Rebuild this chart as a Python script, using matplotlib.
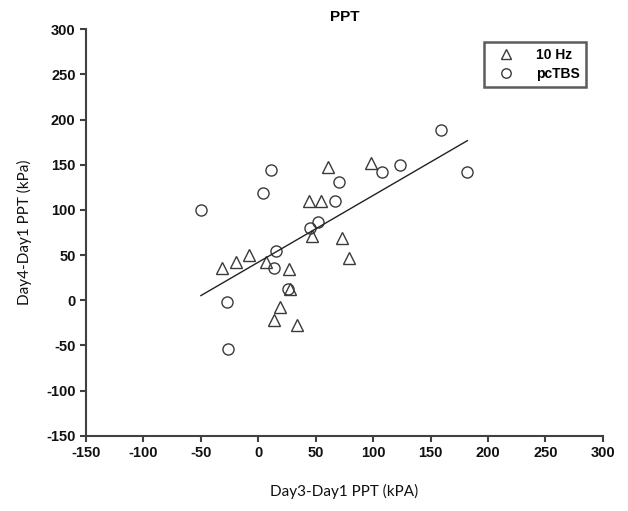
import numpy as np
import matplotlib
matplotlib.use("Agg")
import matplotlib.pyplot as plt

plt.rcParams['axes.unicode_minus'] = False

# 10 Hz (triangles)
hz_x = [-32, -19, -8, 7, 27, 28, 19, 14, 34, 61, 98, 44, 55, 47, 73, 79]
hz_y = [36, 42, 50, 42, 35, 13, -7, -22, -27, 148, 152, 110, 110, 71, 69, 47]
# pcTBS (circles)
pc_x = [-50, 11, 4, 15, 14, 26, -27, -26, 45, 52, 67, 70, 108, 123, 159, 182]
pc_y = [100, 144, 119, 55, 36, 12, -2, -54, 80, 87, 110, 131, 142, 150, 188, 142]

xticks = [-150, -100, -50, 0, 50, 100, 150, 200, 250, 300]
yticks = [-150, -100, -50, 0, 50, 100, 150, 200, 250, 300]

fig = plt.figure(figsize=(6.28, 5.11), dpi=100)
ax = fig.add_axes([0.137, 0.147, 0.823, 0.796])

edge = '#3a3a3a'
ax.plot(hz_x, hz_y, linestyle='none', marker='^', markersize=8.5, markerfacecolor='none',
        markeredgecolor=edge, markeredgewidth=1.0, label='10 Hz')
ax.plot(pc_x, pc_y, linestyle='none', marker='o', markersize=8, markerfacecolor='none',
        markeredgecolor=edge, markeredgewidth=1.0, label='pcTBS')

allx = np.array(hz_x + pc_x, dtype=float)
ally = np.array(hz_y + pc_y, dtype=float)
m, b = np.polyfit(allx, ally, 1)
xs = np.array([allx.min(), allx.max()])
ax.plot(xs, m * xs + b, color='#222222', linewidth=1.0)

ax.set_xlim(-150, 300)
ax.set_ylim(-150, 300)
ax.set_xticks(xticks)
ax.set_yticks(yticks)
for s in ['top', 'right']:
    ax.spines[s].set_visible(False)
for s in ['left', 'bottom']:
    ax.spines[s].set_color('#404040')
    ax.spines[s].set_linewidth(1.5)
ax.tick_params(direction='out', length=4, width=1.5, color='#404040', labelsize=10.5)
for lab in ax.get_xticklabels() + ax.get_yticklabels():
    lab.set_fontfamily('Liberation Sans')
    lab.set_fontweight('bold')
    lab.set_color('#111111')

ax.set_xlabel('Day3-Day1 PPT (kPA)', fontfamily='Lato', fontsize=11, labelpad=17, color='#111111')
ax.set_ylabel('Day4-Day1 PPT (kPa)', fontfamily='Lato', fontsize=11, labelpad=10, color='#111111')
ax.set_title('PPT', fontfamily='Liberation Sans', fontweight='bold', fontsize=11, pad=6)

leg = ax.legend(loc='upper right', bbox_to_anchor=(0.98, 0.985), frameon=True, fancybox=False,
                prop={'family': 'Liberation Sans', 'weight': 'bold', 'size': 10},
                handletextpad=1.0, borderpad=0.4, labelspacing=0.4, handlelength=2.4,
                markerscale=0.85)
leg.get_frame().set_edgecolor('#333333')
leg.get_frame().set_linewidth(1.8)

fig.savefig('out.png', dpi=100)
